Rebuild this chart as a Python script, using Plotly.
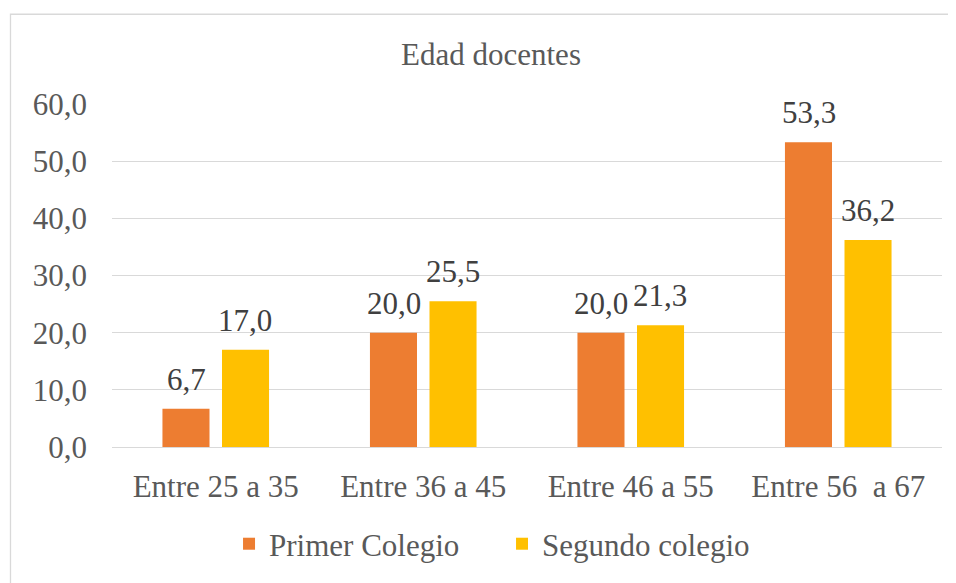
import plotly.graph_objects as go

categories = ["Entre 25 a 35", "Entre 36 a 45", "Entre 46 a 55", "Entre 56  a 67"]
primer = [6.7, 20.0, 20.0, 53.3]
segundo = [17.0, 25.5, 21.3, 36.2]
series_names = ["Primer Colegio", "Segundo colegio"]
tick_vals = [0, 10, 20, 30, 40, 50, 60]

FONT = "Liberation Serif"
ORANGE = "#ED7D31"
YELLOW = "#FFC000"

fig = go.Figure()
fig.add_bar(x=categories, y=primer, name=series_names[0], marker_color=ORANGE,
            marker_line_width=0)
fig.add_bar(x=categories, y=segundo, name=series_names[1], marker_color=YELLOW,
            marker_line_width=0)

annotations = []
for vals, shift in ((primer, -29.5), (segundo, 29.5)):
    for c, v in zip(categories, vals):
        annotations.append(dict(x=c, y=v, xref="x", yref="y", text=f"{v:.1f}".replace(".", ","),
                                showarrow=False, xshift=shift, yshift=10, yanchor="bottom",
                                font=dict(family=FONT, size=31, color="#404040")))

fig.update_layout(
    width=948, height=575,
    margin=dict(l=104, r=14, t=96, b=133),
    paper_bgcolor="white", plot_bgcolor="white",
    separators=",.",
    barmode="group", bargap=0.426, bargroupgap=0.21,
    font=dict(family=FONT, size=31, color="#595959"),
    title=dict(text="Edad docentes", x=(491 - 8) / 948, xanchor="center", xref="container",
               y=1 - (54 - 8) / 575, yref="container", yanchor="middle",
               font=dict(family=FONT, size=31, color="#595959")),
    showlegend=True,
    legend=dict(orientation="h", x=0.141, xanchor="left", y=-0.283, yanchor="middle",
                font=dict(family=FONT, size=31, color="#595959"),
                itemsizing="constant", traceorder="normal", itemwidth=30,
                entrywidth=228, entrywidthmode="pixels"),
    annotations=annotations,
    shapes=[dict(type="rect", xref="paper", yref="paper",
                 x0=-0.1223, x1=1.07, y0=1.2616, y1=-0.72,
                 line=dict(color="#D9D9D9", width=1.3), fillcolor="rgba(0,0,0,0)", layer="below")],
)
fig.update_xaxes(type="category", showgrid=False, showline=False, ticks="",
                 tickfont=dict(family=FONT, size=31, color="#595959"), ticklabelstandoff=18)
fig.update_yaxes(range=[0, 60], tickvals=tick_vals, tickformat=".1f", showgrid=True,
                 gridcolor="#D9D9D9", gridwidth=1.3, zeroline=True, zerolinecolor="#D9D9D9",
                 zerolinewidth=1.3, showline=False, ticks="",
                 tickfont=dict(family=FONT, size=31, color="#595959"), ticklabelstandoff=24)

fig.write_html("out.html")
